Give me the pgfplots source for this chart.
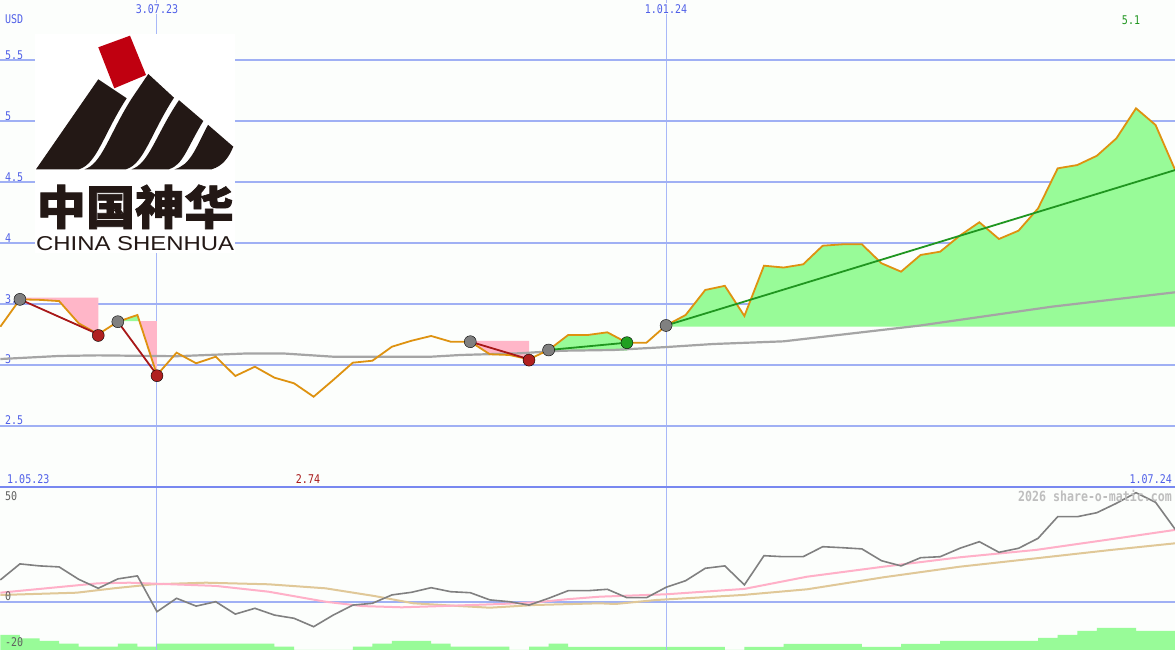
\documentclass[border=0pt]{standalone}
\usepackage{pgfplots}
\pgfplotsset{compat=1.18}
\usepackage{pgfplotstable}
\usepackage{fontspec}
\usepackage{graphicx}
\setmainfont{Liberation Sans}
\newfontfamily\mono{DejaVu Sans Mono}
\newfontfamily\cjk{Noto Sans CJK SC}
\newcommand\px[1]{\scalebox{1}[1.2]{#1}}

\definecolor{bg}{RGB}{252,254,252}
\definecolor{gridh}{RGB}{160,176,244}
\definecolor{gridv}{RGB}{168,184,248}
\definecolor{sepline}{RGB}{120,136,240}
\definecolor{lblblue}{RGB}{80,96,232}
\definecolor{pricec}{RGB}{222,146,16}
\definecolor{magray}{RGB}{165,165,165}
\definecolor{pinkfill}{RGB}{255,182,200}
\definecolor{greenfill}{RGB}{152,251,152}
\definecolor{darkredl}{RGB}{168,24,24}
\definecolor{reddot}{RGB}{176,32,32}
\definecolor{graydot}{RGB}{128,128,128}
\definecolor{greenl}{RGB}{32,150,32}
\definecolor{greendot}{RGB}{32,160,32}
\definecolor{momgray}{RGB}{128,128,128}
\definecolor{pinkl}{RGB}{255,176,200}
\definecolor{tanl}{RGB}{224,200,152}
\definecolor{lowlbl}{RGB}{96,96,96}
\definecolor{wm}{RGB}{190,190,190}
\definecolor{logoblack}{RGB}{35,24,21}
\definecolor{logored}{RGB}{192,0,16}

\pgfplotstableread{
w p
-8 3.310
-7 3.534
-6 3.530
-5 3.520
-4 3.338
-3 3.248
-2 3.351
-1 3.406
0 2.914
1 3.097
2 3.010
3 3.064
4 2.906
5 2.982
6 2.892
7 2.846
8 2.736
9 2.873
10 3.015
11 3.031
12 3.146
13 3.195
14 3.234
15 3.187
16 3.187
17 3.084
18 3.078
19 3.043
20 3.119
21 3.242
22 3.242
23 3.264
24 3.179
25 3.179
26 3.320
27 3.406
28 3.611
29 3.645
30 3.398
31 3.810
32 3.795
33 3.821
34 3.974
35 3.985
36 3.985
37 3.830
38 3.761
39 3.898
40 3.925
41 4.056
42 4.166
43 4.029
44 4.097
45 4.280
46 4.608
47 4.635
48 4.711
49 4.854
50 5.100
51 4.963
52 4.594
}\price

\pgfplotstableread{
w m
-8 3.045
-5 3.070
-3 3.075
1 3.068
4.5 3.090
6.5 3.090
9 3.064
14 3.064
15.5 3.078
18.5 3.092
20.7 3.113
23.3 3.119
26 3.143
28.4 3.168
32 3.190
38.9 3.318
45.7 3.474
52 3.592
}\mavg

\pgfplotstableread{
w v
-8 10.9
-7 18.9
-6 17.9
-5 17.4
-4 11.2
-3 6.7
-2 11.4
-1 12.9
0 -5.0
1 1.7
2 -2.2
3 0.0
4 -6.2
5 -3.3
6 -6.7
7 -8.3
8 -12.5
9 -6.7
10 -1.7
11 -0.8
12 3.4
13 4.7
14 7.0
15 5.0
16 4.5
17 0.9
18 0.0
19 -1.7
20 1.7
21 5.5
22 5.5
23 6.2
24 2.0
25 2.0
26 7.2
27 10.5
28 16.7
29 17.9
30 8.4
31 23.0
32 22.5
33 22.5
34 27.5
35 27.0
36 26.4
37 20.5
38 17.9
39 22.0
40 22.5
41 26.7
42 30.0
43 24.7
44 26.7
45 31.7
46 42.5
47 42.5
48 44.5
49 49.2
50 54.5
51 49.7
52 36.2
}\mom

\pgfplotstableread{
w v
-8 4.5
-3 9.2
-1.4 9.5
0.2 8.9
3 7.9
5.7 5.0
8.6 0.0
10.5 -2.2
12.5 -2.8
14.5 -2.2
17.4 -1.2
19.4 -0.3
20.9 1.2
22.6 2.5
24 3.0
26 3.7
30 6.4
33.2 12.5
37.1 17.5
41 22.2
44.9 25.9
48.7 31.2
52 35.9
}\pinkline

\pgfplotstableread{
w v
-8 3.35
-4.1 4.5
-2.2 6.7
-0.2 8.7
2.5 9.5
5.7 8.7
8.6 6.7
11.1 2.85
13.1 -0.8
15.4 -2.15
17 -3.0
19.3 -1.65
22.6 -0.8
23.4 -1.15
25.5 0.85
29.9 3.35
33.2 6.2
37.1 12.2
41 17.5
44.9 21.7
48.7 25.85
52 29.2
}\tanline

\pgfplotstableread{
w h
-8 15
-7 11.7
-6 9
-5 6.3
-4 3.3
-2 6.3
-1 3.3
0 6.3
6 3.3
7 0
10 3.3
11 6.3
12 9
14 6.3
15 3.3
18 0
19 3.3
20 6.3
21 3
29 0
30 3
32 6
36 3
38 6
40 9
45 12
46 15
47 19
48 22
50 19
52 19
}\vol

\pgfplotsset{panel/.style={anchor=south west, scale only axis, width=1175pt,
  xmin=-8.018, xmax=51.99, axis line style={draw=none}, tick style={draw=none},
  major tick length=0pt, xticklabels={}, yticklabels={}}}

\begin{document}
\begin{tikzpicture}[x=1pt,y=1pt]
\fill[bg] (0pt,0pt) rectangle (1175pt,650pt);

% y labels of the upper panel (under the plot)
\begin{scope}[shift={(0pt,650pt)}, y=-1pt, every node/.style={font=\mono\fontsize{10}{12}\selectfont, text=lblblue, inner sep=0pt, anchor=west}]
\node at (5,19) {\px{USD}};
\node at (5,55) {\px{5.5}};
\node at (5,116) {\px{5}};
\node at (5,177) {\px{4.5}};
\node at (5,238) {\px{4}};
\node at (5,299) {\px{3.5}};
\node at (5,359) {\px{3}};
\node at (5,420) {\px{2.5}};
\end{scope}

% volume bars
\begin{axis}[panel, at={(0pt,0pt)}, height=163pt, ymin=0, ymax=163, xtick=\empty, ytick=\empty]
\addplot[fill=greenfill, draw=none, const plot mark left] table[x=w,y=h]{\vol} \closedcycle;
\end{axis}

% lower panel
\begin{axis}[panel, at={(0pt,0pt)}, height=163pt, ymin=-24.15, ymax=57.35,
  xtick={0,26}, ytick={0},
  xmajorgrids, ymajorgrids, x grid style={gridv, line width=1pt}, y grid style={gridh, line width=2pt}]
\addplot[tanl, line width=2pt] table[x=w,y=v]{\tanline};
\addplot[pinkl, line width=2pt] table[x=w,y=v]{\pinkline};
\addplot[momgray, line width=1.6pt] table[x=w,y=v]{\mom};
\end{axis}

% upper panel
\begin{axis}[panel, at={(0pt,163pt)}, height=487pt, ymin=1.996, ymax=5.988,
  xtick={0,26}, ytick={2.5,3,3.5,4,4.5,5,5.5},
  xmajorgrids, ymajorgrids, x grid style={gridv, line width=1pt}, y grid style={gridh, line width=2pt}]
\addplot[fill=pinkfill, draw=none] coordinates {(-7,3.548) (-3,3.548) (-3,3.248) (-4,3.338) (-5,3.52) (-6,3.53) (-7,3.534)} -- cycle;
\addplot[fill=greenfill, draw=none] coordinates {(-2,3.356) (-1,3.406) (-0.9,3.356)} -- cycle;
\addplot[fill=pinkfill, draw=none] coordinates {(-0.9,3.356) (0,3.356) (0,2.914)} -- cycle;
\addplot[fill=pinkfill, draw=none] coordinates {(16,3.193) (19,3.193) (19,3.043) (18,3.078) (17,3.084) (16,3.187)} -- cycle;
\addplot[fill=greenfill, draw=none] coordinates {(20,3.113) (20,3.119) (21,3.242) (22,3.242) (23,3.264) (24,3.179) (24,3.113)} -- cycle;
\addplot[fill=greenfill, draw=none] coordinates {(26,3.31) (26,3.320) (27,3.406) (28,3.611) (29,3.645) (30,3.398) (31,3.810) (32,3.795) (33,3.821) (34,3.974) (35,3.985) (36,3.985) (37,3.830) (38,3.761) (39,3.898) (40,3.925) (41,4.056) (42,4.166) (43,4.029) (44,4.097) (45,4.280) (46,4.608) (47,4.635) (48,4.711) (49,4.854) (50,5.100) (51,4.963) (52,4.594) (52,3.31)} -- cycle;
\addplot[magray, line width=2.2pt] table[x=w,y=m]{\mavg};
\addplot[pricec, line width=1.8pt] table[x=w,y=p]{\price};
\addplot[darkredl, line width=1.8pt] coordinates {(-7,3.534) (-3,3.248)};
\addplot[darkredl, line width=1.8pt] coordinates {(-2,3.351) (0,2.914)};
\addplot[darkredl, line width=1.8pt] coordinates {(16,3.187) (19,3.043)};
\addplot[greenl, line width=1.8pt] coordinates {(20,3.119) (24,3.179)};
\addplot[greenl, line width=1.8pt] coordinates {(26,3.320) (52,4.594)};
\addplot[only marks, mark=*, mark size=6pt, mark options={fill=graydot, draw=none}] coordinates {(-7,3.534) (-2,3.351) (16,3.187) (20,3.119) (26,3.320)};
\addplot[only marks, mark=*, mark size=6pt, mark options={fill=reddot, draw=none}] coordinates {(-3,3.238) (0,2.908) (19,3.036)};
\addplot[only marks, mark=*, mark size=6pt, mark options={fill=greendot, draw=none}] coordinates {(24,3.179)};
\end{axis}

\begin{scope}[shift={(0pt,650pt)}, y=-1pt]
% separator
\draw[sepline, line width=2.6pt] (0,487) -- (1175,487);
% logo
\fill[white] (35,34) rectangle (235,253);
\fill[logored] (98.3,47.3) -- (130,35.7) -- (146,75) -- (114.3,88.3) -- cycle;
\fill[logoblack] (36,169.3) -- (98.3,79.3) -- (126.7,98.3) .. controls (104,133) and (97,164) .. (79,169.3) -- cycle;
\fill[logoblack] (84.5,169.3) .. controls (102,164) and (109,134) .. (132,98) -- (148.3,74) -- (174,97.7) .. controls (151,133) and (144,164) .. (126,169.3) -- cycle;
\fill[logoblack] (131.5,169.3) .. controls (149,164) and (156,134) .. (179,100.2) -- (203.3,121) .. controls (187,148) and (183,165) .. (169,169.3) -- cycle;
\fill[logoblack] (174.5,169.3) .. controls (190,165) and (195,150) .. (208,124.8) -- (233.3,146.7) .. controls (229,157) and (223,166) .. (211.7,169.3) -- cycle;
\node[anchor=north west, inner sep=0pt, text=logoblack] at (36.5,184.5) {\resizebox{197pt}{40pt}{\cjk\bfseries\addfontfeature{FakeBold=1.5}中国神华}};
\node[anchor=north west, inner sep=0pt, text=logoblack] at (36,236) {\resizebox{198pt}{14pt}{CHINA SHENHUA}};
% texts
\begin{scope}[every node/.style={font=\mono\fontsize{10}{12}\selectfont, inner sep=0pt}]
\node[text=lblblue, fill=bg, inner sep=1pt] at (157,8.7) {\px{3.07.23}};
\node[text=lblblue, fill=bg, inner sep=1pt] at (666,8.7) {\px{1.01.24}};
\node[text=greenl] at (1131,20.5) {\px{5.1}};
\node[text=darkredl] at (308,479) {\px{2.74}};
\node[text=lblblue, anchor=west] at (7,479) {\px{1.05.23}};
\node[text=lblblue, anchor=east] at (1172,479) {\px{1.07.24}};
\node[text=lowlbl, anchor=west] at (5,496) {\px{50}};
\node[text=lowlbl, anchor=west] at (5,596) {\px{0}};
\node[text=lowlbl, anchor=west] at (5,642) {\px{-20}};
\node[text=wm, anchor=east, font=\mono\bfseries\fontsize{11.6}{13}\selectfont] at (1172,496) {\px{2026 share-o-matic.com}};
\end{scope}
\end{scope}
\pgfresetboundingbox
\path[use as bounding box] (0pt,0pt) rectangle (1175pt,650pt);
\end{tikzpicture}
\end{document}
